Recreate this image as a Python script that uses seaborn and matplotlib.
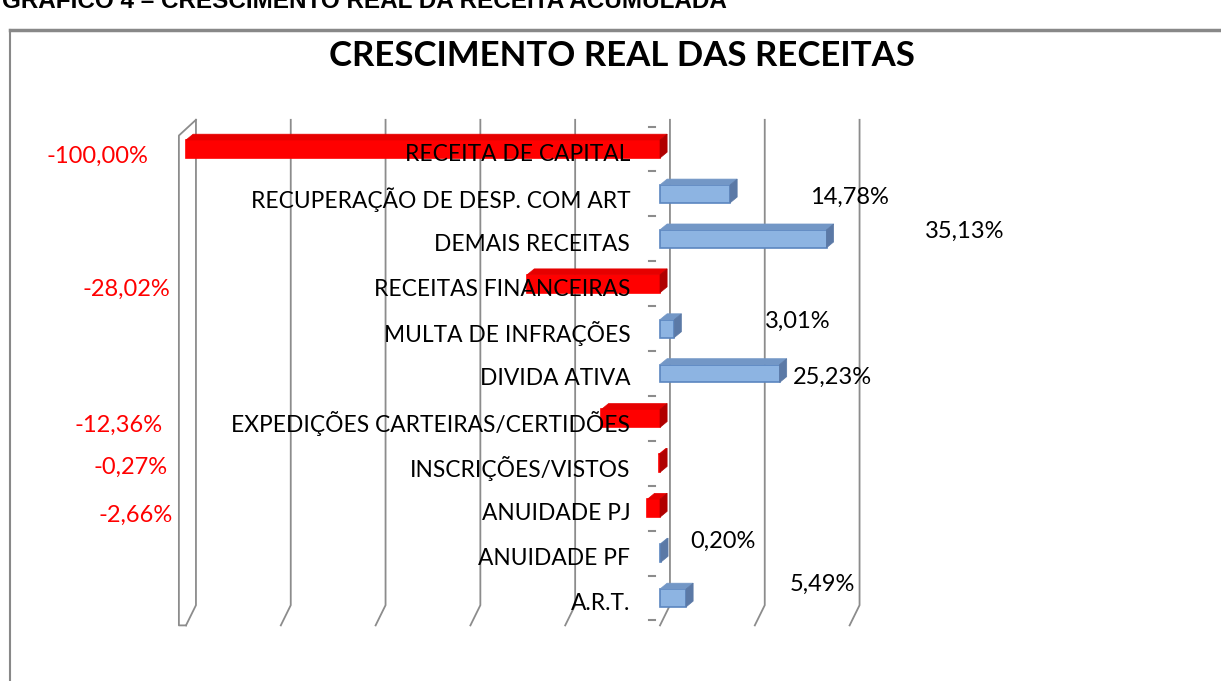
import numpy as np
import pandas as pd
import matplotlib
matplotlib.use("Agg")
import matplotlib.pyplot as plt
from matplotlib.patches import Polygon
from matplotlib.lines import Line2D
import seaborn as sns

# Data
categories = [
    "RECEITA DE CAPITAL", "RECUPERAÇÃO DE DESP. COM ART", "DEMAIS RECEITAS",
    "RECEITAS FINANCEIRAS", "MULTA DE INFRAÇÕES", "DIVIDA ATIVA",
    "EXPEDIÇÕES CARTEIRAS/CERTIDÕES", "INSCRIÇÕES/VISTOS", "ANUIDADE PJ",
    "ANUIDADE PF", "A.R.T.",
]
values = [-100.00, 14.78, 35.13, -28.02, 3.01, 25.23, -12.36, -0.27, -2.66, 0.20, 5.49]
grid_values = [-100, -80, -60, -40, -20, 0, 20, 40]

# manual data-label placement (Excel moved them around by hand)
label_x = [-108.0, 31.6, 55.9, -103.4, 22.2, 28.1, -104.9, -103.8, -102.7, 6.3, 27.4]
label_dy = [0.16, 0.07, -0.16, 0.13, -0.16, 0.09, 0.16, 0.09, 0.16, -0.27, -0.31]

RED, RED_TOP, RED_SIDE = "#FF0000", "#E60000", "#B00000"
BLUE, BLUE_TOP, BLUE_SIDE, BLUE_EDGE = "#8DB4E2", "#7397C6", "#5B79A6", "#5B86C0"
GRID = "#8C8C8C"
FONT = "Lato"

df = pd.DataFrame({"categoria": categories, "valor": values})
df["sinal"] = np.where(df["valor"] < 0, "neg", "pos")

W, H = 1221, 681
fig = plt.figure(figsize=(W / 100, H / 100), dpi=100)
fig.patch.set_facecolor("white")

XMIN, XMAX = -104, 44
YMIN, YMAX = -0.8, 10.8
px_per_unit = 4.74
left_px = 660 - (0 - XMIN) * px_per_unit
width_px = (XMAX - XMIN) * px_per_unit
top_px = 149 + YMIN * 44.9
height_px = (YMAX - YMIN) * 44.9
ax = fig.add_axes([left_px / W, 1 - (top_px + height_px) / H, width_px / W, height_px / H])

sns.barplot(data=df, y="categoria", x="valor", hue="sinal", order=categories,
            palette={"neg": RED, "pos": BLUE}, orient="h", width=0.4, saturation=1,
            dodge=False, legend=False, ax=ax, zorder=3, linewidth=0)

ax.set_xlim(XMIN, XMAX)
ax.set_ylim(YMAX, YMIN)
ax.set_facecolor("none")
for s in ax.spines.values():
    s.set_visible(False)
ax.set_xlabel("")
ax.set_ylabel("")
ax.set_xticks([])

# back-wall gridlines with floor slant
DX, DY = 2.1, 0.45
y_top, y_floor = -0.65, 10.16
for v in grid_values:
    ax.plot([v + DX, v + DX, v], [y_top, y_floor, y_floor + DY], color=GRID, lw=1.3,
            zorder=1, clip_on=False)
# left wall edge
ax.plot([-100 + DX, -101.5, -101.5, -100],
        [y_top, y_top + 0.35, y_floor + DY, y_floor + DY], color=GRID, lw=1.3,
        zorder=1, clip_on=False)

# 3D faces on the bars (patches matched to rows by their vertical position)
bdx, bdy = 1.5, 0.13
for patch in list(ax.patches):
    x0, y0 = patch.get_x(), patch.get_y()
    w, h = patch.get_width(), patch.get_height()
    if h == 0 or not np.isfinite(w):
        continue
    idx = int(round(y0 + h / 2))
    val = values[idx]
    x1, y1 = x0 + w, y0 + h
    xa, xb = min(x0, x1), max(x0, x1)
    ya, yb = min(y0, y1), max(y0, y1)
    neg = val < 0
    top_c = RED_TOP if neg else BLUE_TOP
    side_c = RED_SIDE if neg else BLUE_SIDE
    edge = RED if neg else BLUE_EDGE
    patch.set_edgecolor(edge)
    patch.set_linewidth(1.2)
    ax.add_patch(Polygon([(xa, ya), (xa + bdx, ya - bdy), (xb + bdx, ya - bdy), (xb, ya)],
                         closed=True, facecolor=top_c, edgecolor=top_c, lw=0.5, zorder=3))
    ax.add_patch(Polygon([(xb, ya), (xb + bdx, ya - bdy), (xb + bdx, yb - bdy), (xb, yb)],
                         closed=True, facecolor=side_c, edgecolor=side_c, lw=0.5, zorder=3))

# category labels drawn over the plot, right-aligned left of zero
ax.set_yticks([])
for i, cat in enumerate(categories):
    ax.text(-6.3, i + 0.12, cat, ha="right", va="center", fontsize=16.4,
            family=FONT, color="black", zorder=5)

# tick dashes between categories on the zero axis
for i in range(len(categories) + 1):
    ax.plot([-2.4, -1.0], [i - 0.5, i - 0.5], color=GRID, lw=1.5, zorder=2)

# data labels
for i, (val, lx, dy) in enumerate(zip(values, label_x, label_dy)):
    txt = f"{val:.2f}%".replace(".", ",")
    ax.text(lx, i + dy, txt, ha="right" if val < 0 else "left", va="center",
            fontsize=17, family=FONT, color="#FF0000" if val < 0 else "black",
            clip_on=False, zorder=5)

# title and outer frame
fig.text(622 / W, 1 - 56 / H, "CRESCIMENTO REAL DAS RECEITAS", ha="center", va="center",
         fontsize=25, fontweight="bold", family=FONT)
fig.text(2 / W, 1 - 8 / H, "GRÁFICO 4 – CRESCIMENTO REAL DA RECEITA ACUMULADA",
         ha="left", va="baseline", fontsize=17.5, fontweight="bold", family="Liberation Sans")
fig.add_artist(Line2D([10 / W, 10 / W], [0, 1 - 30 / H], color="#888888", lw=1.5))
fig.add_artist(Line2D([10 / W, 1], [1 - 30 / H, 1 - 30 / H], color="#888888", lw=2.5))

fig.savefig("out.png", dpi=100)
